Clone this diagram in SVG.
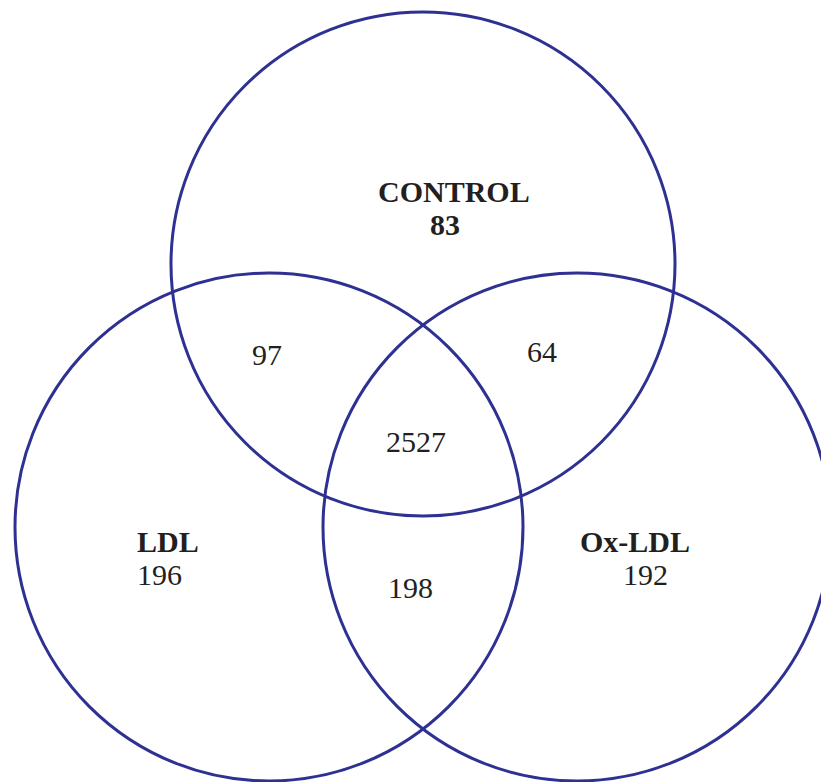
<svg xmlns="http://www.w3.org/2000/svg" width="821" height="782" viewBox="0 0 821 782">
<style>
.c{fill:none;stroke:#2e3192;stroke-width:3}
.t{font-family:"Liberation Serif","Times New Roman",serif;font-size:30px;fill:#231f20}
.b{font-weight:bold}
</style>
<rect width="821" height="782" fill="#fff"/>
<g id="connectors"></g>
<g id="control"><circle class="c" cx="423" cy="264" r="252"/><text class="t b" x="378" y="202">CONTROL</text><text class="t b" x="430" y="235">83</text></g>
<g id="ldl"><circle class="c" cx="269" cy="527" r="254"/><text class="t b" x="137" y="552">LDL</text><text class="t" x="137" y="585">196</text></g>
<g id="oxldl"><circle class="c" cx="577" cy="527" r="254"/><text class="t b" x="580" y="552">Ox-LDL</text><text class="t" x="623" y="585">192</text></g>
<g id="overlaps"><text class="t" x="252" y="365">97</text><text class="t" x="527" y="362">64</text><text class="t" x="386" y="452">2527</text><text class="t" x="388" y="598">198</text></g>
</svg>
